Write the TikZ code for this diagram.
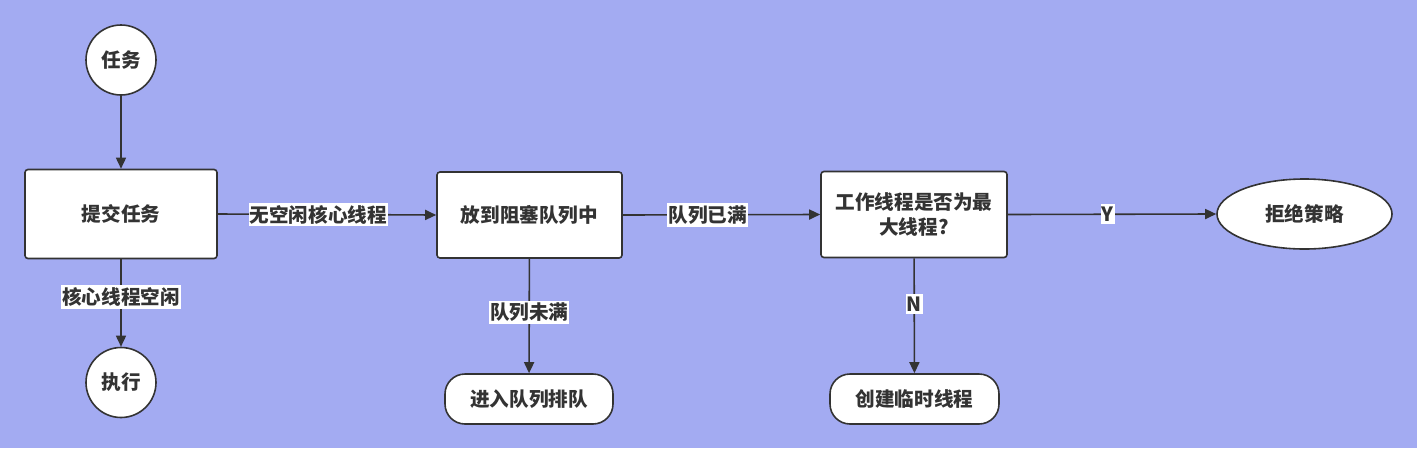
\documentclass[tikz,border=0pt]{standalone}
\usepackage{fontspec}
\setmainfont{Noto Sans CJK SC}
\usetikzlibrary{arrows.meta,shapes.geometric}
\definecolor{bg}{HTML}{A3ABF2}
\definecolor{ink}{HTML}{333333}
\begin{document}
\begin{tikzpicture}[x=1pt,y=-1pt,
  every node/.style={font=\fontsize{19.6}{25}\selectfont\bfseries, text=ink},
  rbox/.style={draw=ink, line width=1.6pt, fill=white, rounded corners=3pt, inner sep=2pt, align=center},
  pill/.style={draw=ink, line width=1.6pt, fill=white, rounded corners=20pt, inner sep=2pt},
  circ/.style={draw=ink, line width=1.6pt, fill=white, circle, minimum size=70pt, inner sep=0pt},
  oval/.style={draw=ink, line width=1.6pt, fill=white, ellipse, inner sep=0pt},
  arr/.style={draw=ink, line width=1.6pt, -{Triangle[length=11pt,width=10pt]}},
  lbl/.style={fill=white, inner xsep=1pt, inner ysep=2.5pt}
]
\fill[bg] (0,0) rectangle (1417,448);
\useasboundingbox (0,0) rectangle (1417,448);

\node[circ] (task) at (121,60) {任务};
\node[rbox, minimum width=192pt, minimum height=89pt] (submit) at (121,214) {提交任务};
\node[circ] (exec) at (121,382.5) {执行};
\node[rbox, minimum width=185pt, minimum height=86pt] (queue) at (529.5,215) {放到阻塞队列中};
\node[pill, minimum width=168pt, minimum height=50pt] (enq) at (529,399) {进入队列排队};
\node[rbox, minimum width=186pt, minimum height=86pt] (max) at (914,214.5) {工作线程是否为最\\大线程?};
\node[pill, minimum width=169pt, minimum height=50pt] (create) at (914.5,399) {创建临时线程};
\node[oval, minimum width=175pt, minimum height=70pt] (reject) at (1304.5,214) {拒绝策略};

\draw[arr] (task) -- (submit);
\draw[arr] (submit) -- node[lbl, pos=0.43]{核心线程空闲} (exec);
\draw[arr] (submit.east) -- node[lbl, pos=0.46]{无空闲核心线程} (queue.west);
\draw[arr] (queue) -- node[lbl, pos=0.47]{队列未满} (enq);
\draw[arr] (queue.east) -- node[lbl, pos=0.43]{队列已满} (max.west);
\draw[arr] (max.east) -- node[lbl, pos=0.48]{Y} (reject.west);
\draw[arr] (max) -- node[lbl, pos=0.4]{N} (create);
\end{tikzpicture}
\end{document}
